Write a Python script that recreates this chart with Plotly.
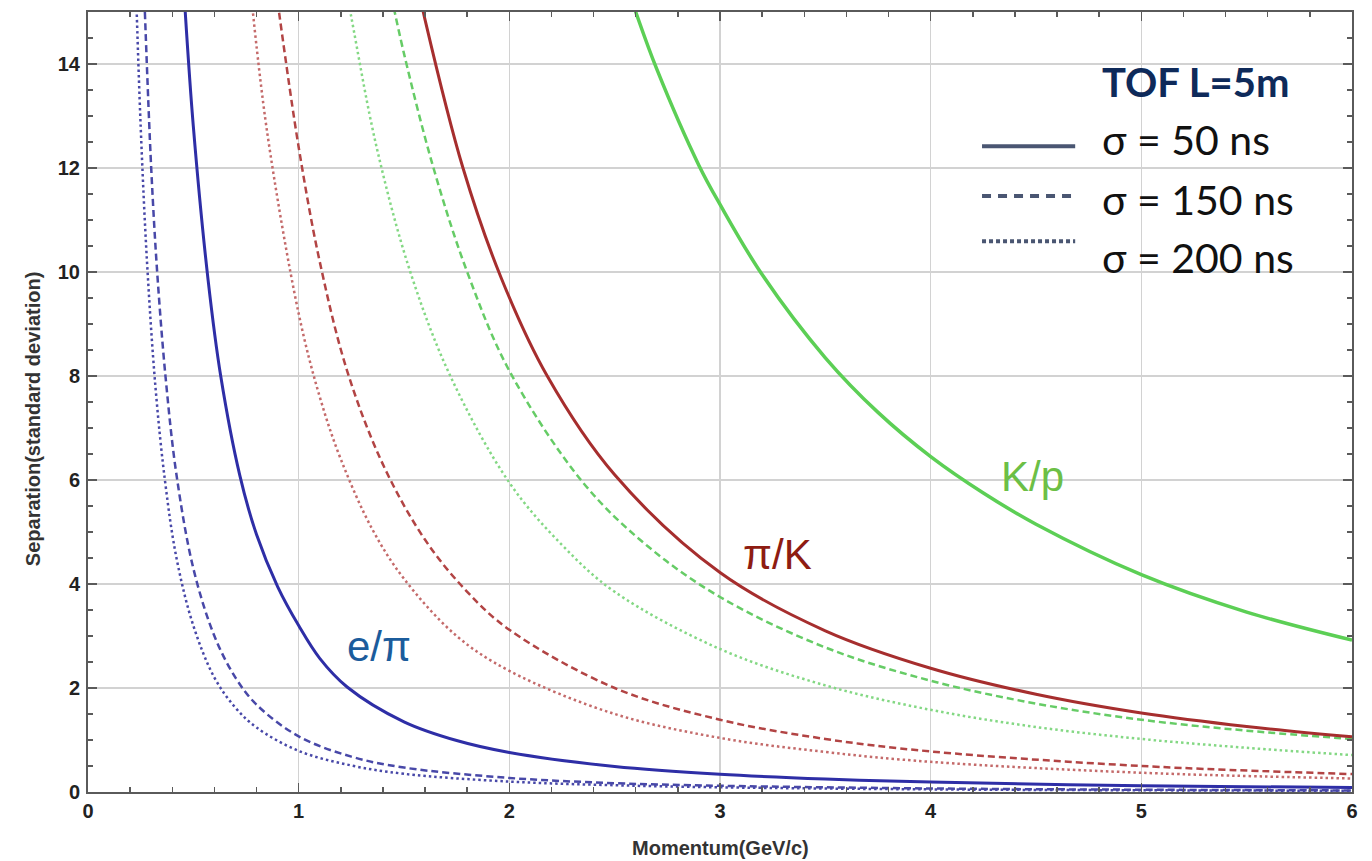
import plotly.graph_objects as go

# ---- data (momentum GeV/c, separation in sigma) ----
ep_50_x = [0.46, 0.5, 0.57, 0.63, 0.72, 0.8, 0.9, 1.0, 1.1, 1.23, 1.5, 1.75, 2.0, 2.5, 3.0, 3.5, 4.0, 5.0, 6.0]
ep_50_y = [15.1, 12.8, 9.85, 8.0, 6.1, 4.95, 3.95, 3.2, 2.57, 2.02, 1.35, 0.99, 0.76, 0.49, 0.34, 0.25, 0.19, 0.12, 0.085]

ep_150_x = [0.27, 0.3, 0.33, 0.37, 0.42, 0.5, 0.6, 0.7, 0.8, 1.0, 1.25, 1.5, 2.0, 2.5, 3.0, 4.0, 5.0, 6.0]
ep_150_y = [15.0, 12.0, 9.9, 7.9, 6.1, 4.3, 3.0, 2.2, 1.68, 1.07, 0.68, 0.47, 0.27, 0.17, 0.12, 0.068, 0.044, 0.03]

ep_200_x = [0.225, 0.25, 0.28, 0.32, 0.365, 0.42, 0.5, 0.6, 0.7, 0.8, 1.0, 1.25, 1.5, 2.0, 2.5, 3.0, 4.0, 5.0, 6.0]
ep_200_y = [15.8, 12.8, 10.2, 7.8, 6.0, 4.5, 3.2, 2.2, 1.62, 1.24, 0.79, 0.51, 0.35, 0.2, 0.13, 0.09, 0.05, 0.033, 0.023]

pk_50_x = [1.55, 1.6, 1.78, 1.96, 2.18, 2.5, 3.0, 3.5, 4.0, 4.5, 5.0, 5.5, 6.0]
pk_50_y = [15.8, 14.85, 12.0, 9.9, 8.0, 6.1, 4.22, 3.1, 2.38, 1.88, 1.52, 1.26, 1.06]

pk_150_x = [0.9, 1.0, 1.1, 1.23, 1.4, 1.6, 1.8, 2.0, 2.5, 3.0, 3.5, 4.0, 5.0, 6.0]
pk_150_y = [15.2, 12.4, 10.2, 8.1, 6.3, 4.85, 3.85, 3.12, 2.0, 1.39, 1.02, 0.78, 0.5, 0.345]

pk_200_x = [0.77, 0.85, 1.0, 1.1, 1.2, 1.35, 1.5, 1.75, 2.0, 2.5, 3.0, 3.5, 4.0, 5.0, 6.0]
pk_200_y = [15.5, 12.7, 9.2, 7.6, 6.4, 5.05, 4.1, 3.0, 2.33, 1.5, 1.04, 0.77, 0.58, 0.37, 0.26]

kp_50_x = [2.55, 2.6, 2.7, 2.9, 3.0, 3.2, 3.5, 3.75, 4.0, 4.25, 4.5, 5.0, 5.5, 6.0]
kp_50_y = [15.6, 15.0, 13.9, 12.05, 11.3, 9.95, 8.35, 7.3, 6.45, 5.75, 5.15, 4.18, 3.46, 2.92]

kp_150_x = [1.43, 1.5, 1.64, 1.8, 2.0, 2.35, 2.65, 3.0, 3.5, 4.0, 4.5, 5.0, 5.5, 6.0]
kp_150_y = [15.5, 14.2, 12.0, 10.0, 8.1, 5.95, 4.75, 3.75, 2.78, 2.14, 1.7, 1.39, 1.18, 1.02]

kp_200_x = [1.2, 1.25, 1.37, 1.53, 1.72, 2.0, 2.25, 2.5, 3.0, 3.5, 4.0, 4.5, 5.0, 5.5, 6.0]
kp_200_y = [16.0, 14.9, 12.4, 10.0, 8.0, 5.95, 4.75, 3.85, 2.75, 2.05, 1.58, 1.25, 1.02, 0.85, 0.71]

curve_labels = ["e/π", "π/K", "K/p"]
legend_title = "TOF L=5m"
legend_labels = ["σ = 50 ns", "σ = 150 ns", "σ = 200 ns"]
x_title = "Momentum(GeV/c)"
y_title = "Separation(standard deviation)"
x_tick_vals = [0, 1, 2, 3, 4, 5, 6]
y_tick_vals = [0, 2, 4, 6, 8, 10, 12, 14]

# ---- styles ----
BLUE = "#2e2ea6"
BLUE_L = "#4848a8"
RED = "#a62e2e"
RED_D = "#b24444"
RED_L = "#c46a6a"
GREEN = "#5ccf55"
GREEN_D = "#66cc66"
GREEN_L = "#84d884"
DASH = "7px,4px"
DOT = "2.5px,3px"

series = [
    (ep_200_x, ep_200_y, BLUE_L, DOT, 2.5),
    (ep_150_x, ep_150_y, BLUE_L, DASH, 2.5),
    (ep_50_x, ep_50_y, BLUE, "solid", 3),
    (pk_200_x, pk_200_y, RED_L, DOT, 2.5),
    (pk_150_x, pk_150_y, RED_D, DASH, 2.5),
    (kp_200_x, kp_200_y, GREEN_L, DOT, 2.5),
    (kp_150_x, kp_150_y, GREEN_D, DASH, 2.5),
    (pk_50_x, pk_50_y, RED, "solid", 3),
    (kp_50_x, kp_50_y, GREEN, "solid", 3.5),
]

fig = go.Figure()
for xs, ys, col, dash, w in series:
    fig.add_trace(go.Scatter(x=xs, y=ys, mode="lines",
                             line=dict(color=col, dash=dash, width=w, shape="spline", smoothing=1.0),
                             showlegend=False, hoverinfo="skip"))

label_font = dict(family="Liberation Sans, Arial, sans-serif", size=42)
fig.add_annotation(x=1.38, y=2.8, text=curve_labels[0], showarrow=False,
                   font=dict(label_font, color="#1b5c9c"))
fig.add_annotation(x=3.275, y=4.56, text=curve_labels[1], showarrow=False,
                   font=dict(label_font, color="#8e1c12"))
fig.add_annotation(x=4.485, y=6.06, text=curve_labels[2], showarrow=False,
                   font=dict(label_font, color="#6cbf46"))

# ---- legend (drawn manually) ----
LEG_COL = "#4a5672"
leg_font = dict(family="Lato, Open Sans, sans-serif", size=41, color="#111111")
fig.add_annotation(xref="paper", yref="paper", x=0.8006, y=0.910, xanchor="left", yanchor="middle",
                   text="<b>" + legend_title + "</b>", showarrow=False,
                   font=dict(family="Lato, Open Sans, sans-serif", size=40, color="#0e2a5a"))
leg_y_text = [0.836, 0.759, 0.685]
leg_y_line = [0.828, 0.764, 0.706]
leg_dash = ["solid", "9px,7px", "4px,3px"]
for lbl, yt, yl, d in zip(legend_labels, leg_y_text, leg_y_line, leg_dash):
    fig.add_annotation(xref="paper", yref="paper", x=0.8006, y=yt, xanchor="left", yanchor="middle",
                       text=lbl, showarrow=False, font=leg_font)
    fig.add_shape(type="line", xref="paper", yref="paper", x0=0.7073, x1=0.781, y0=yl, y1=yl,
                  line=dict(color=LEG_COL, width=4, dash=d))

# ---- axis titles ----
title_font = dict(family="Liberation Sans, Arial, sans-serif", size=20, color="#333333")
fig.add_annotation(xref="paper", yref="paper", x=0.5, y=-0.0718, xanchor="center", yanchor="middle",
                   text="<b>" + x_title + "</b>", showarrow=False, font=title_font)
fig.add_annotation(xref="paper", yref="paper", x=-0.0435, y=0.478, xanchor="center", yanchor="middle",
                   text="<b>" + y_title + "</b>", showarrow=False, textangle=-90, font=title_font)

axis_common = dict(
    showline=True, linecolor="#5a5a5a", linewidth=2, mirror="allticks",
    ticks="inside", ticklen=9, tickwidth=1.5, tickcolor="#5a5a5a",
    showgrid=True, gridcolor="#d2d2d2", gridwidth=1.5, zeroline=False, automargin=False,
    tickfont=dict(family="Liberation Sans, Arial, sans-serif", size=20, color="#222222", weight="bold"),
)

fig.update_xaxes(axis_common, range=[0, 6], tickvals=x_tick_vals,
                 minor=dict(dtick=0.2, ticks="inside", ticklen=5, tickcolor="#5a5a5a", showgrid=False))
fig.update_yaxes(axis_common, range=[0, 15], tickvals=y_tick_vals, ticklabelstandoff=2,
                 minor=dict(dtick=0.5, ticks="inside", ticklen=5, tickcolor="#5a5a5a", showgrid=False))

fig.update_layout(
    width=1372, height=861,
    margin=dict(l=88, r=20, t=12, b=69),
    plot_bgcolor="white", paper_bgcolor="white",
)

fig.write_html("out.html", config={"displayModeBar": False, "staticPlot": True},
               post_script="document.body.style.margin='0';document.body.style.overflow='hidden';")
